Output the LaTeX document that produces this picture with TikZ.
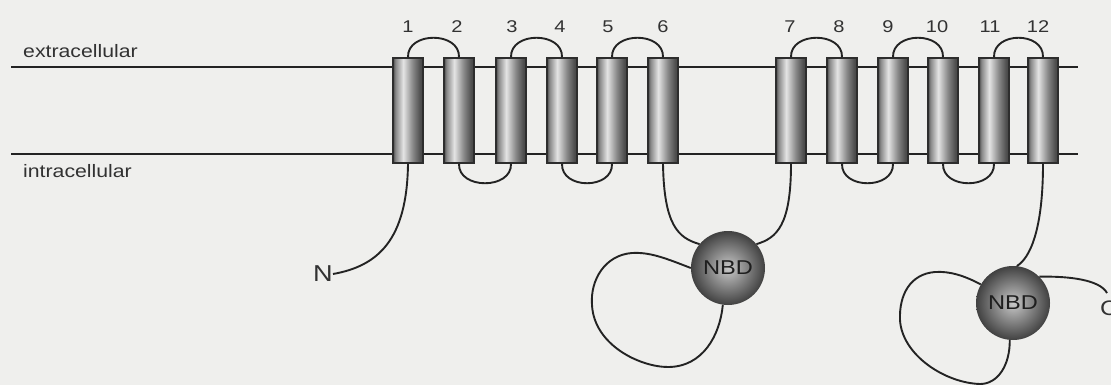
\documentclass[tikz,border=0pt]{standalone}
\usepackage{fontspec}
\newfontfamily\labfont[FakeStretch=1.18]{Liberation Sans}
\usetikzlibrary{backgrounds}
\definecolor{bgc}{RGB}{239,239,237}
\definecolor{linec}{RGB}{35,35,35}
\definecolor{txt}{RGB}{50,50,50}
\definecolor{cylb}{RGB}{45,45,45}
\definecolor{cyldark}{RGB}{75,75,75}
\definecolor{cylmid}{RGB}{135,135,135}
\definecolor{cyllight}{RGB}{228,228,228}
\definecolor{nbdin}{RGB}{200,200,200}
\definecolor{nbdout}{RGB}{65,65,65}
\definecolor{nbdtxt}{RGB}{30,30,30}
\pgfdeclarehorizontalshading{cylshade}{100bp}{color(0bp)=(cyldark); color(25bp)=(cyldark); color(29bp)=(cylmid); color(42bp)=(cyllight); color(58bp)=(cylmid); color(71bp)=(cyldark); color(75bp)=(cyldark); color(100bp)=(cyldark)}
\begin{document}
\begin{tikzpicture}[x=1pt,y=-1pt,
  line/.style={draw=linec, line width=1.9pt},
  memb/.style={draw=linec, line width=2pt},
  cyl/.style={rectangle, minimum width=30pt, minimum height=105pt, inner sep=0pt, shading=cylshade, draw=cylb, line width=1.5pt},
  num/.style={font=\labfont\fontsize{17}{19}\selectfont, text=txt, inner sep=0pt},
  region/.style={font=\labfont\fontsize{18}{20}\selectfont, text=txt, inner sep=0pt, anchor=base west},
  nbd/.style={circle, minimum size=74pt, inner sep=0pt, inner color=nbdin, outer color=nbdout, font=\labfont\fontsize{20}{22}\selectfont, text=nbdtxt},
  term/.style={font=\labfont\fontsize{23}{25}\selectfont, text=txt, inner sep=0pt}
]
\useasboundingbox (0,0) rectangle (1111,385);
% cylinders
\foreach \i/\x in {1/408,2/459,3/511,4/562,5/612,6/663,7/791,8/842,9/893,10/943,11/994,12/1043}{
  \node[cyl] (c\i) at (\x,110.5) {};
}
% numbers
\foreach \i/\x in {1/408,2/457,3/512,4/560,5/608,6/663,7/790,8/839,9/888,10/937,11/990,12/1038}{
  \node[num] (l\i) at (\x,27) {\i};
}
% background and membrane
\begin{pgfonlayer}{background}
  \fill[bgc] (0,0) rectangle (1111,385);
  \coordinate (m1a) at (11,67);
  \coordinate (m1b) at (1078,67);
  \coordinate (m2a) at (11,154);
  \coordinate (m2b) at (1078,154);
  \draw[memb] (m1a) -- (m1b);
  \draw[memb] (m2a) -- (m2b);
\end{pgfonlayer}
\node[region] (ext) at (23,58) {extracellular};
\node[region] (int) at (23,177) {intracellular};
% loops
\foreach \a/\b in {1/2,3/4,5/6,7/8,9/10,11/12}{
  \draw[line] (c\a.north) .. controls +(-1,-26) and +(1,-26) .. (c\b.north);
}
\foreach \a/\b in {2/3,4/5,8/9,10/11}{
  \draw[line] (c\a.south) .. controls +(-1,26) and +(1,26) .. (c\b.south);
}
% NBD domains
\node[nbd] (n1) at (728,268) {NBD};
\node[nbd] (n2) at (1013,303) {NBD};
% N terminus
\node[term, anchor=east] (N) at (333,274) {N};
\draw[line] (c1.south) .. controls (407,240) and (378,266) .. (N.east);
% connections to NBD1
\draw[line] (c6.south) .. controls (664,225) and (678,238) .. (n1.140);
\draw[line] (c7.south) .. controls (791,225) and (777,238) .. (n1.40);
\draw[line] (n1.180) .. controls (665,258) and (650,252) .. (632,253)
  .. controls (605,255) and (590,280) .. (592,305)
  .. controls (594,345) and (640,367) .. (668,367)
  .. controls (703,367) and (720,335) .. (n1.262);
% connections to NBD2
\draw[line] (c12.south) .. controls (1043,230) and (1030,258) .. (n2.84);
\draw[line] (n2.150) .. controls (965,276) and (950,271) .. (935,272)
  .. controls (910,274) and (899,295) .. (900,320)
  .. controls (902,355) and (945,383) .. (980,384)
  .. controls (998,384) and (1010,365) .. (n2.265);
% C terminus
\coordinate (cend) at (1107,293);
\node[term, anchor=west, font=\labfont\fontsize{21}{23}\selectfont] (C) at (1100,308) {C};
\draw[line] (n2.45) .. controls (1070,276) and (1100,280) .. (cend);
\end{tikzpicture}
\end{document}
